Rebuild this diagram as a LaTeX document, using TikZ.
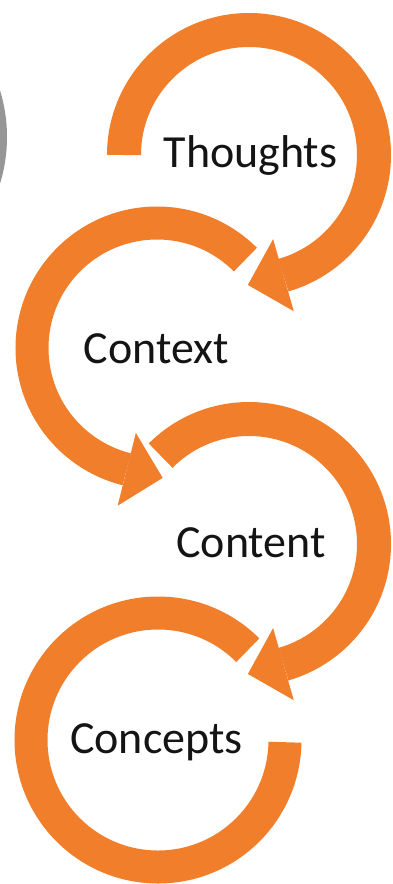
\documentclass[tikz,border=0pt]{standalone}
\usepackage{fontspec}
\setmainfont{Carlito}
\usetikzlibrary{calc}
\definecolor{ringorange}{RGB}{240,126,42}
\definecolor{txtdark}{RGB}{20,20,20}
\definecolor{sidegray}{RGB}{150,150,150}
\begin{document}
\begin{tikzpicture}[x=1pt,y=-1pt,
  ring/.style={draw=ringorange,line cap=butt},
  headfill/.style={fill=ringorange},
  lbl/.style={text=txtdark,font=\fontsize{46}{55}\selectfont,anchor=base,inner sep=0pt}]
\useasboundingbox (0,0) rectangle (392,884);
\fill[white] (0,0) rectangle (392,884);
% grey shape cut by the left edge
\begin{scope}
\clip (0,0) rectangle (392,884);
\fill[sidegray] (-151,137) circle (158);
\end{scope}
% centres
\coordinate (c1) at (249,155);
\coordinate (c2) at (157,348);
\coordinate (c3) at (249,544);
\coordinate (c4) at (158,740);
% ring 1 (Thoughts)
\draw[ring,line width=34] ($(c1)+(180:125)$) arc[start angle=180,end angle=434,radius=125];
\fill[headfill] ($(c1)+(434:162.5)$) -- ($(c1)+(434:87.5)$) -- ($(c1)+(450.5:130)$) -- cycle;
% ring 2 (Context)
\draw[ring,line width=33] ($(c2)+(315:125)$) arc[start angle=315,end angle=104,radius=125];
\fill[headfill] ($(c2)+(104:162.5)$) -- ($(c2)+(104:87.5)$) -- ($(c2)+(87.5:130)$) -- cycle;
% ring 3 (Content)
\draw[ring,line width=34] ($(c3)+(225:125)$) arc[start angle=225,end angle=434,radius=125];
\fill[headfill] ($(c3)+(434:162.5)$) -- ($(c3)+(434:87.5)$) -- ($(c3)+(450.5:130)$) -- cycle;
% ring 4 (Concepts)
\draw[ring,line width=33] ($(c4)+(315:127)$) arc[start angle=315,end angle=1,radius=127];
% labels
\node[lbl] (thoughts) at (250.5,167) {Thoughts};
\node[lbl] (context) at (156.5,363) {Context};
\node[lbl] (content) at (251,557) {Content};
\node[lbl] (concepts) at (156.5,753) {Concepts};
\end{tikzpicture}
\end{document}
